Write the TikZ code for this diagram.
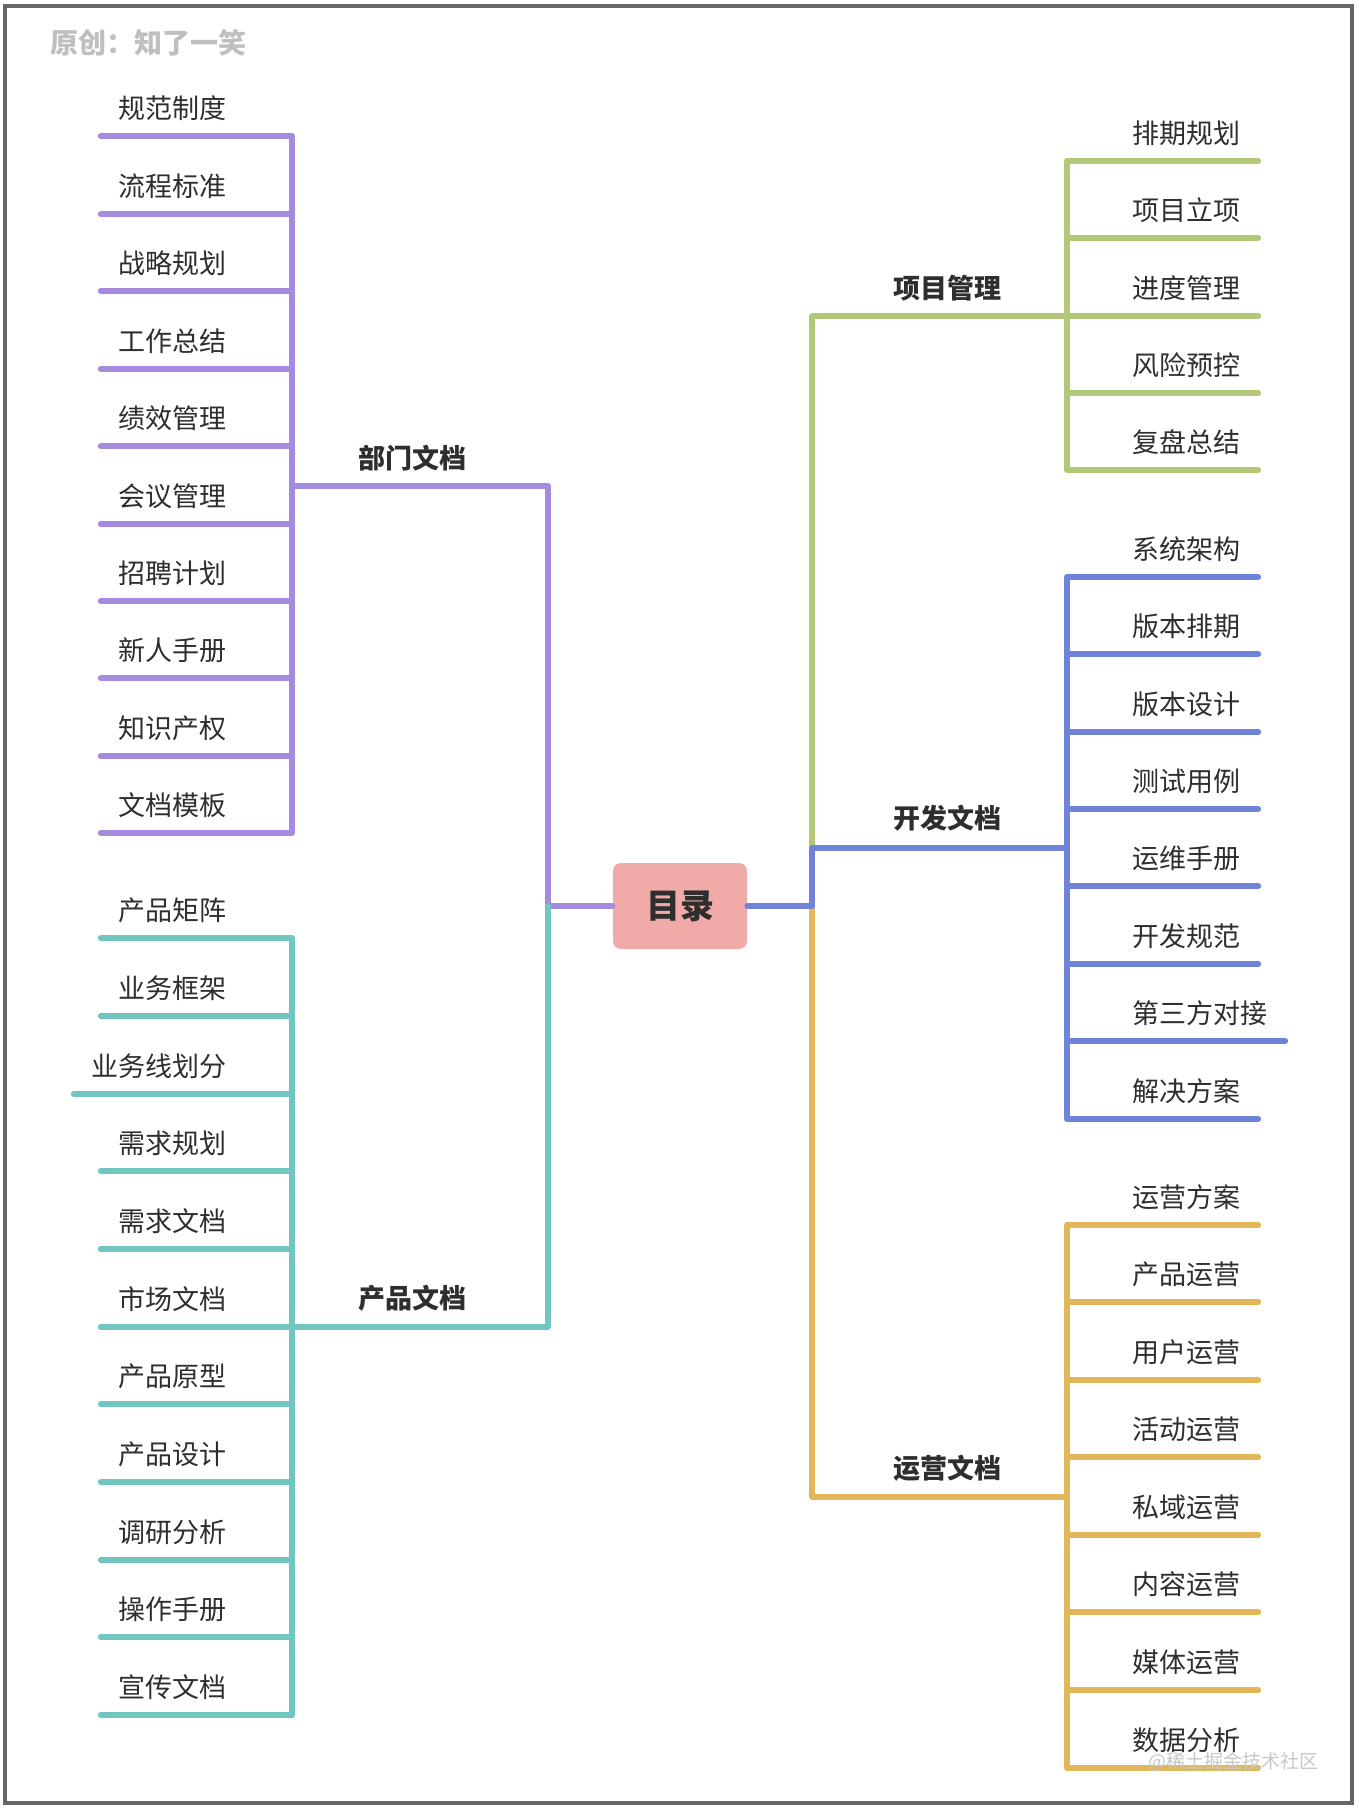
\documentclass[tikz,border=0pt]{standalone}
\usepackage{fontspec}
\usepackage{tikz}
\newfontfamily\cjk{Noto Sans CJK SC}
\definecolor{deptcol}{HTML}{A48BE0}
\definecolor{prodcol}{HTML}{72C6C2}
\definecolor{projcol}{HTML}{B2C878}
\definecolor{devcol}{HTML}{6F83D9}
\definecolor{opscol}{HTML}{E2B75A}
\definecolor{rootcol}{HTML}{F0AAA8}
\definecolor{inkcol}{HTML}{2E2E2E}
\tikzset{
	branch/.style={line width=5.5pt, line cap=round, line join=round},
	leaf/.style={font=\cjk\fontsize{27}{32}\selectfont, text=inkcol, inner xsep=18pt, inner ysep=0pt},
	hub/.style={font=\cjk\bfseries\fontsize{27}{32}\selectfont, text=inkcol, inner sep=0pt},
}
% leaf on the left: name, colour, line y, label
\newcommand{\leftleaf}[4]{%
	\node[leaf, anchor=east] (#1) at (245, #3-28) {#4};
	\coordinate (#1-s) at (292, #3);
	\draw[branch, #2] (#1.west |- #1-s) -- (#1-s);
}
% leaf on the right: name, colour, line y, label
\newcommand{\rightleaf}[4]{%
	\node[leaf, anchor=west] (#1) at (1114, #3-28) {#4};
	\coordinate (#1-s) at (1067, #3);
	\draw[branch, #2] (#1-s) -- (#1.east |- #1-s);
}

\begin{document}
\begin{tikzpicture}[x=1pt, y=-1pt]
		%%%%% START %%%%%
		
		\useasboundingbox (0, 0) rectangle (1359, 1812);
		\draw[line width=3.5pt, color=black!60] (5, 6) rectangle (1352, 1803);
		
		\node[font=\cjk\bfseries\fontsize{28}{32}\selectfont, text=black!25, anchor=west, inner sep=0pt] (sign) at (50, 43) {原创：知了一笑};
		
		\node[fill=rootcol, rounded corners=8pt, minimum width=134pt, minimum height=86pt, font=\cjk\bfseries\fontsize{34}{40}\selectfont, text=inkcol] (root) at (680, 906) {目录};
		
		% 部门文档
		\leftleaf{dept1}{deptcol}{136}{规范制度}
		\leftleaf{dept2}{deptcol}{214}{流程标准}
		\leftleaf{dept3}{deptcol}{291}{战略规划}
		\leftleaf{dept4}{deptcol}{369}{工作总结}
		\leftleaf{dept5}{deptcol}{446}{绩效管理}
		\leftleaf{dept6}{deptcol}{524}{会议管理}
		\leftleaf{dept7}{deptcol}{601}{招聘计划}
		\leftleaf{dept8}{deptcol}{678}{新人手册}
		\leftleaf{dept9}{deptcol}{756}{知识产权}
		\leftleaf{dept10}{deptcol}{833}{文档模板}
		\draw[branch, deptcol] (dept1-s) -- (dept10-s);
		\node[hub] (dept) at (412, 458) {部门文档};
		\coordinate (dept-in) at (548, 486);
		\draw[branch, deptcol] (root.west) -| (dept-in) -- (dept-in -| dept1-s);
		
		% 产品文档
		\leftleaf{prod1}{prodcol}{938}{产品矩阵}
		\leftleaf{prod2}{prodcol}{1016}{业务框架}
		\leftleaf{prod3}{prodcol}{1094}{业务线划分}
		\leftleaf{prod4}{prodcol}{1171}{需求规划}
		\leftleaf{prod5}{prodcol}{1249}{需求文档}
		\leftleaf{prod6}{prodcol}{1327}{市场文档}
		\leftleaf{prod7}{prodcol}{1404}{产品原型}
		\leftleaf{prod8}{prodcol}{1482}{产品设计}
		\leftleaf{prod9}{prodcol}{1560}{调研分析}
		\leftleaf{prod10}{prodcol}{1637}{操作手册}
		\leftleaf{prod11}{prodcol}{1715}{宣传文档}
		\draw[branch, prodcol] (prod1-s) -- (prod11-s);
		\node[hub] (prod) at (412, 1298) {产品文档};
		\coordinate (prod-in) at (548, 1327);
		\draw[branch, prodcol] (root.west -| prod-in) -- (prod-in) -- (prod-in -| prod1-s);
		
		% 项目管理
		\rightleaf{proj1}{projcol}{161}{排期规划}
		\rightleaf{proj2}{projcol}{238}{项目立项}
		\rightleaf{proj3}{projcol}{316}{进度管理}
		\rightleaf{proj4}{projcol}{393}{风险预控}
		\rightleaf{proj5}{projcol}{470}{复盘总结}
		\draw[branch, projcol] (proj1-s) -- (proj5-s);
		\node[hub] (proj) at (947, 288) {项目管理};
		\coordinate (proj-in) at (812, 316);
		\coordinate (dev-in) at (812, 848);
		\draw[branch, projcol] (dev-in) -- (proj-in) -- (proj-in -| proj1-s);
		
		% 运营文档
		\rightleaf{ops1}{opscol}{1225}{运营方案}
		\rightleaf{ops2}{opscol}{1302}{产品运营}
		\rightleaf{ops3}{opscol}{1380}{用户运营}
		\rightleaf{ops4}{opscol}{1457}{活动运营}
		\rightleaf{ops5}{opscol}{1535}{私域运营}
		\rightleaf{ops6}{opscol}{1612}{内容运营}
		\rightleaf{ops7}{opscol}{1690}{媒体运营}
		\rightleaf{ops8}{opscol}{1768}{数据分析}
		\draw[branch, opscol] (ops1-s) -- (ops8-s);
		\node[hub] (ops) at (947, 1468) {运营文档};
		\coordinate (ops-in) at (812, 1497);
		\draw[branch, opscol] (root.east -| ops-in) -- (ops-in) -- (ops-in -| ops1-s);
		
		% 开发文档
		\rightleaf{dev1}{devcol}{577}{系统架构}
		\rightleaf{dev2}{devcol}{654}{版本排期}
		\rightleaf{dev3}{devcol}{732}{版本设计}
		\rightleaf{dev4}{devcol}{809}{测试用例}
		\rightleaf{dev5}{devcol}{886}{运维手册}
		\rightleaf{dev6}{devcol}{964}{开发规范}
		\rightleaf{dev7}{devcol}{1041}{第三方对接}
		\rightleaf{dev8}{devcol}{1119}{解决方案}
		\draw[branch, devcol] (dev1-s) -- (dev8-s);
		\node[hub] (dev) at (947, 818) {开发文档};
		\draw[branch, devcol] (root.east) -| (dev-in) -- (dev-in -| dev1-s);
		
		\node[font=\cjk\fontsize{19}{22}\selectfont, text=black!22, anchor=east, inner sep=0pt] (site) at (1319, 1762) {@稀土掘金技术社区};
		
		%%%%% END %%%%%
	\end{tikzpicture}
\end{document}
